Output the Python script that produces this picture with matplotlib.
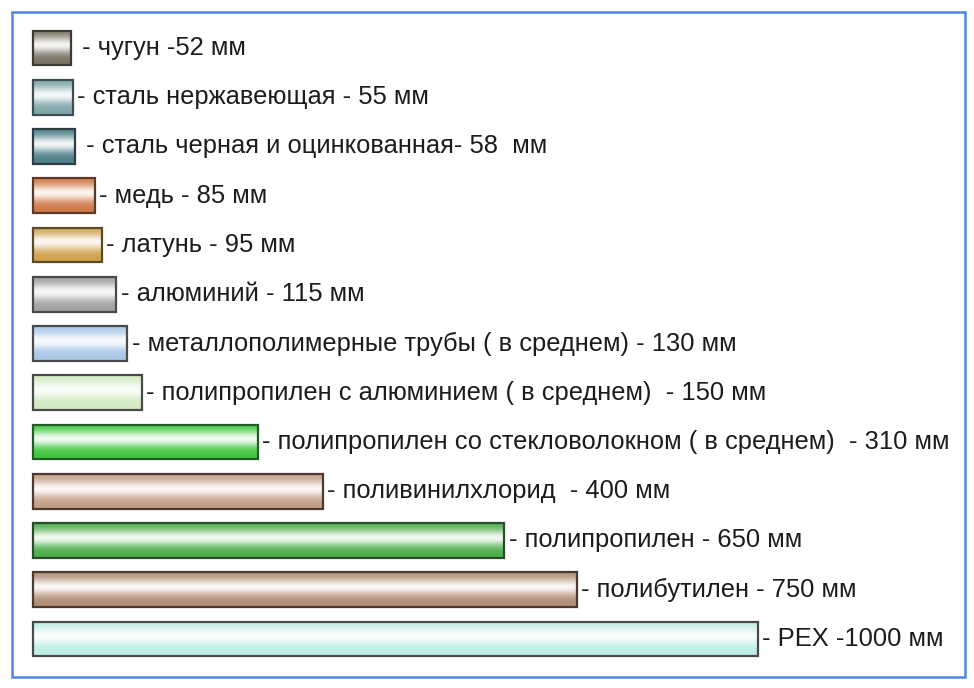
import numpy as np
import matplotlib.pyplot as plt
from matplotlib.patches import Rectangle
from matplotlib.colors import to_rgb

# данные: материал трубы и величина (мм)
names = ['чугун', 'сталь нержавеющая', 'сталь черная и оцинкованная', 'медь',
         'латунь', 'алюминий', 'металлополимерные трубы ( в среднем)',
         'полипропилен с алюминием ( в среднем)',
         'полипропилен со стекловолокном ( в среднем)', 'поливинилхлорид',
         'полипропилен', 'полибутилен', 'PEX']
values = [52, 55, 58, 85, 95, 115, 130, 150, 310, 400, 650, 750, 1000]
labels = [' - чугун -52 мм', '- сталь нержавеющая - 55 мм',
          ' - сталь черная и оцинкованная- 58  мм', '- медь - 85 мм',
          '- латунь - 95 мм', '- алюминий - 115 мм',
          '- металлополимерные трубы ( в среднем) - 130 мм',
          '- полипропилен с алюминием ( в среднем)  - 150 мм',
          '- полипропилен со стекловолокном ( в среднем)  - 310 мм',
          '- поливинилхлорид  - 400 мм', '- полипропилен - 650 мм',
          '- полибутилен - 750 мм', '- PEX -1000 мм']
colors = ['#7a7466', '#7fa6aa', '#4f8089', '#d07a48', '#cfa24c', '#a2a2a2',
          '#a8c6e6', '#d2eac2', '#3fc63f', '#c49e86', '#4cae4c', '#b38e76',
          '#bfeee6']
edges = ['#3e3a32', '#3e4e50', '#2c3c40', '#5a3a28', '#5a4a28', '#4a4a4a',
         '#4a4a4a', '#4a4a4a', '#245a24', '#4a3a30', '#2a4a2a', '#4a3a30',
         '#4a4a4a']

plt.rcParams['font.family'] = ['Liberation Sans', 'DejaVu Sans']

fig = plt.figure(figsize=[9.74, 6.88], dpi=100)
fig.patch.set_facecolor('white')
ax = plt.axes([0, 0, 1, 1])
ax.set_xlim(-33 / 0.725, (974 - 33) / 0.725)
ax.set_ylim((688 - 48) / 49.25, -48 / 49.25)
ax.axis('off')

# рамка
fig.patches.append(Rectangle((12 / 974, 1 - 677 / 688), 953 / 974, 665 / 688,
                             transform=fig.transFigure, fill=False,
                             edgecolor='#4f86e2', linewidth=1.8))

h = 0.71
t = np.linspace(0, 1, 64)
w = 0.92 * np.exp(-((t - 0.42) / 0.24) ** 2)
y = np.arange(len(values))
bars = ax.barh(y, values, height=h, color='none', edgecolor='none')

for i, (b, v) in enumerate(zip(bars, values)):
    base = np.array(to_rgb(colors[i]))
    grad = base[None, :] * (1 - w[:, None]) + w[:, None]
    img = ax.imshow(grad[:, None, :], aspect='auto',
                    extent=[0, v, i + h / 2, i - h / 2], interpolation='bilinear',
                    zorder=2)
    img.set_clip_path(b)
    ax.add_patch(Rectangle(b.get_xy(), b.get_width(), b.get_height(),
                           fill=False, edgecolor=edges[i], linewidth=1.6,
                           zorder=3))
    ax.text(v + 6, i, labels[i], va='center', ha='left', fontsize=18.4,
            color='#1c1c1c', zorder=4)

plt.savefig('out.png', dpi=100)
plt.close()
